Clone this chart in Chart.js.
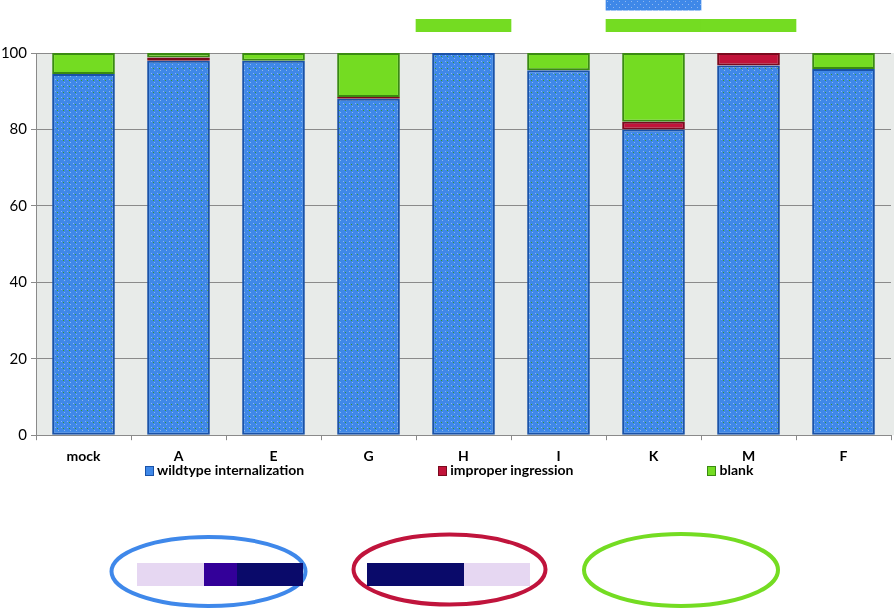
<!DOCTYPE html>
<html>
<head>
<meta charset="utf-8">
<script src="https://cdn.jsdelivr.net/npm/chart.js@4.4.1/dist/chart.umd.min.js"></script>
<style>
  body { margin: 0; background: #fff; }
  #wrap { position: relative; width: 894px; height: 613px; overflow: hidden; font-family: Lato, "Liberation Sans", sans-serif; }
  #main { position: absolute; left: 0; top: 0; }
  #topbar { position: absolute; left: 0; top: 0; }
  #legend { position: absolute; left: 145px; top: 461px; white-space: nowrap; font-weight: bold; font-size: 14px; color: #000; }
  #legend span.item { display: inline-block; margin-right: 134px; }
  #legend span.box { display: inline-block; width: 7px; height: 8px; border: 1px solid #333; margin-right: 3px; vertical-align: -1px; }
  #keys { position: absolute; left: 0; top: 0; pointer-events: none; }
</style>
</head>
<body>
<div id="wrap">
  <canvas id="main" width="894" height="473"></canvas>
  <canvas id="topbar" width="894" height="34"></canvas>
  <div id="legend"></div>
  <svg id="keys" width="894" height="613">
    <ellipse cx="208.5" cy="571.5" rx="97" ry="34.5" fill="none" stroke="#3f88ea" stroke-width="4"/>
    <rect x="137" y="563" width="67" height="23" fill="#e6d7f2"/>
    <rect x="204" y="563" width="33" height="23" fill="#330099"/>
    <rect x="237" y="563" width="66" height="23" fill="#0a0a6a"/>
    <ellipse cx="449.5" cy="569.5" rx="96" ry="35" fill="none" stroke="#c0143c" stroke-width="4"/>
    <rect x="367" y="563" width="97" height="23" fill="#0a0a6a"/>
    <rect x="464" y="563" width="66" height="23" fill="#e6d7f2"/>
    <ellipse cx="681" cy="570" rx="97" ry="36" fill="none" stroke="#74dc22" stroke-width="4"/>
  </svg>
</div>
<script>
// categories and percentages
const categories = ['mock', 'A', 'E', 'G', 'H', 'I', 'K', 'M', 'F'];
const wildtype = [94.5, 98.0, 98.0, 88.0, 100, 95.5, 80.0, 96.7, 95.8];
const improper = [0, 0.8, 0, 0.5, 0, 0, 2.0, 3.3, 0];
const blank = [5.5, 1.2, 2.0, 11.5, 0, 4.5, 18.0, 0, 4.2];
const yTicks = [0, 20, 40, 60, 80, 100];

// cropped strips of the panel above (floating bars per category)
const stripBlue = [null, null, null, null, null, null, [2.1, 3], null, null];
const stripGreen = [null, null, null, null, [0.2, 1.3], null, [0.2, 1.3], [0.2, 1.3], null];

const BLUE = '#3f88e8', RED = '#c2133a', GREEN = '#74dc22';

// dotted fill like the printed figure
function dotted(base, light, dark) {
  const c = document.createElement('canvas');
  c.width = 6; c.height = 6;
  const g = c.getContext('2d');
  g.fillStyle = base; g.fillRect(0, 0, 6, 6);
  g.fillStyle = light; g.fillRect(1, 1, 1, 1); g.fillRect(4, 4, 1, 1);
  if (dark) { g.fillStyle = dark; g.fillRect(3, 2, 1, 1); }
  return document.getElementById('main').getContext('2d').createPattern(c, 'repeat');
}

const plotBg = {
  id: 'plotBg',
  beforeDraw(chart) {
    const a = chart.chartArea, ctx = chart.ctx;
    ctx.save();
    ctx.fillStyle = '#e8ebe9';
    ctx.fillRect(a.left, a.top, chart.width - a.left, a.bottom - a.top);
    ctx.restore();
  }
};

const font = { family: 'Lato, "Liberation Sans", sans-serif' };

const mainChart = new Chart(document.getElementById('main'), {
  type: 'bar',
  data: {
    labels: categories,
    datasets: [
      { label: 'wildtype internalization', data: wildtype, backgroundColor: dotted(BLUE, '#8fb8ee', '#3a9a2a'), borderColor: '#1a52a8', legendColor: BLUE },
      { label: 'improper ingression', data: improper, backgroundColor: RED, borderColor: '#7a0a1e', legendColor: RED },
      { label: 'blank', data: blank, backgroundColor: GREEN, borderColor: '#3a8a12', legendColor: GREEN }
    ]
  },
  options: {
    responsive: false,
    animation: false,
    datasets: { bar: { categoryPercentage: 0.66, barPercentage: 1, borderWidth: 2, borderSkipped: false } },
    layout: { padding: { top: 53, right: 3, left: 0, bottom: 0 } },
    plugins: { legend: { display: false }, tooltip: { enabled: false } },
    scales: {
      x: {
        stacked: true,
        grid: { drawOnChartArea: false, offset: true, tickLength: 5, color: '#8a8a8a' },
        border: { color: '#8a8a8a' },
        ticks: { color: '#000', padding: 8, font: { ...font, size: 14, weight: 'bold' } }
      },
      y: {
        stacked: true,
        min: 0, max: 100,
        afterFit(s) { s.width = 36; },
        afterBuildTicks(s) { s.ticks = yTicks.map(v => ({ value: v })); },
        grid: { color: '#8a8a8a', tickLength: 5 },
        border: { color: '#8a8a8a' },
        ticks: { color: '#000', padding: 4, font: { ...font, size: 15 } }
      }
    }
  },
  plugins: [plotBg]
});

new Chart(document.getElementById('topbar'), {
  type: 'bar',
  data: {
    labels: categories,
    datasets: [
      { data: stripBlue, backgroundColor: dotted(BLUE, '#8fb8ee') },
      { data: stripGreen, backgroundColor: GREEN }
    ]
  },
  options: {
    responsive: false,
    animation: false,
    datasets: { bar: { categoryPercentage: 1, barPercentage: 1, grouped: false } },
    layout: { padding: { left: 36, right: 3, top: 0, bottom: 0 } },
    plugins: { legend: { display: false }, tooltip: { enabled: false } },
    scales: {
      x: { display: false },
      y: { display: false, min: 0, max: 3 }
    }
  }
});

// legend under the category labels
const legend = document.getElementById('legend');
mainChart.data.datasets.forEach(ds => {
  const item = document.createElement('span');
  item.className = 'item';
  const box = document.createElement('span');
  box.className = 'box';
  box.style.background = ds.legendColor;
  box.style.borderColor = ds.borderColor;
  item.appendChild(box);
  item.appendChild(document.createTextNode(ds.label));
  legend.appendChild(item);
});
</script>
</body>
</html>
